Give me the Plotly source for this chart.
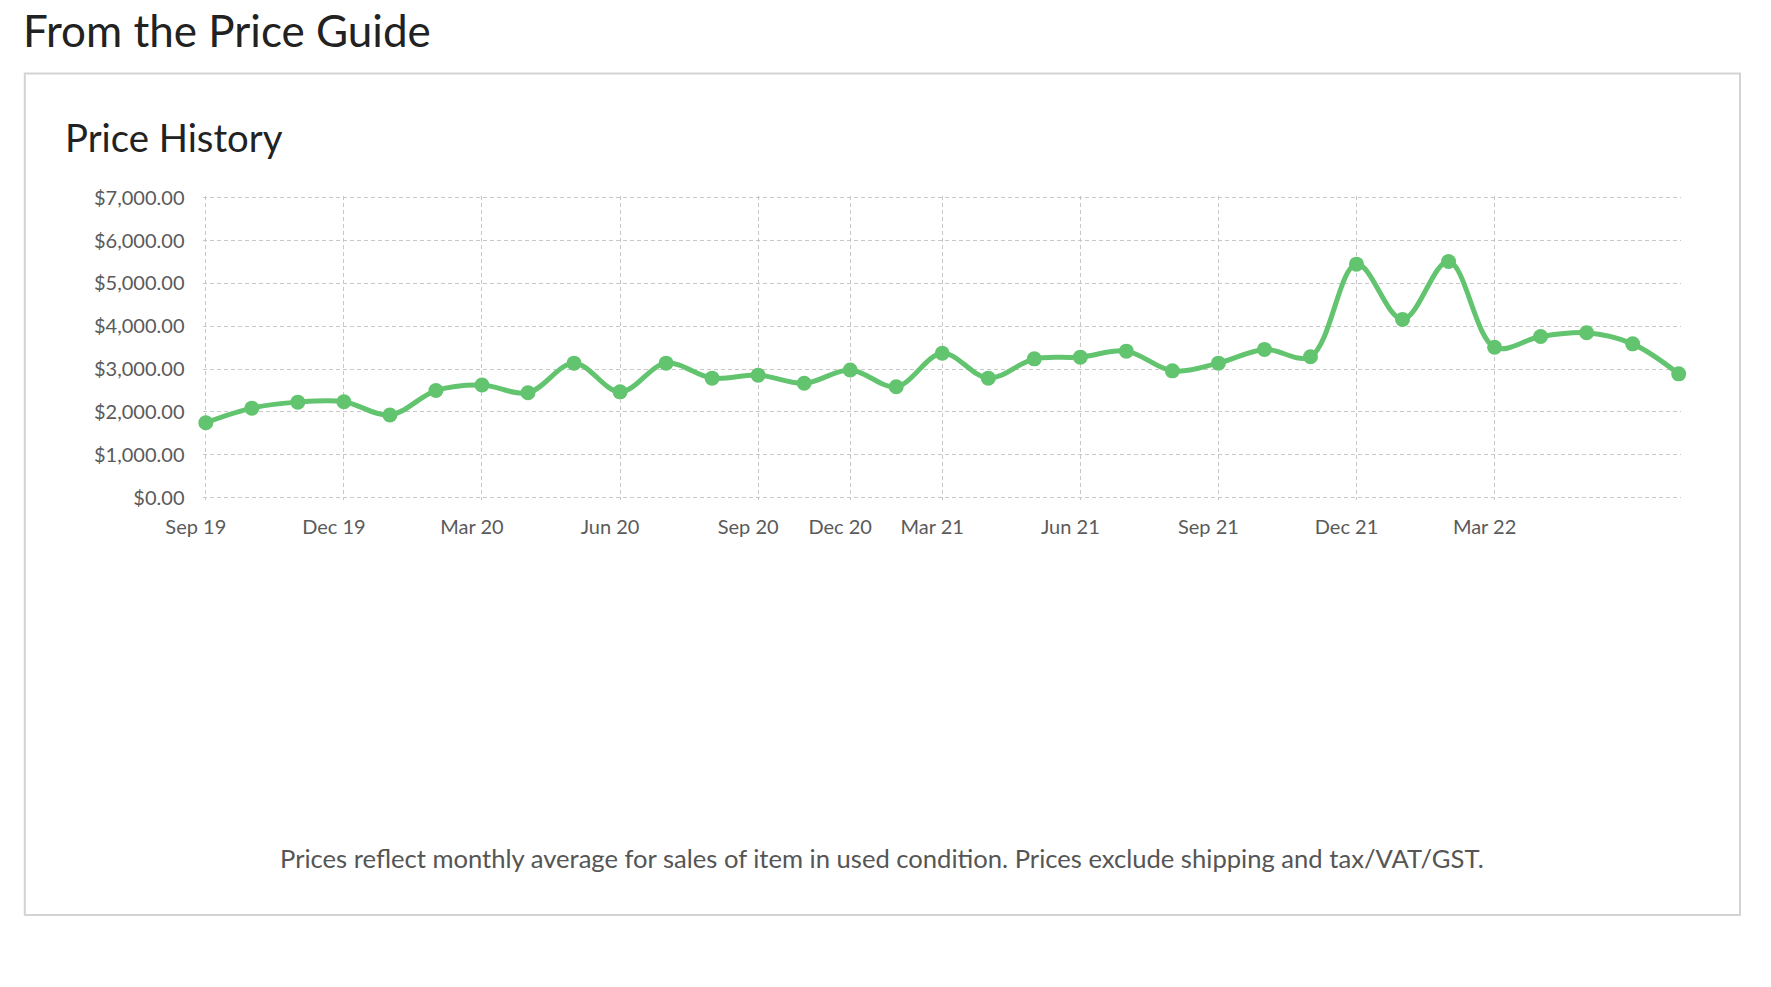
import plotly.graph_objects as go

W, H = 1771, 987

months = ["Sep 19", "Oct 19", "Nov 19", "Dec 19", "Jan 20", "Feb 20", "Mar 20", "Apr 20",
          "May 20", "Jun 20", "Jul 20", "Aug 20", "Sep 20", "Oct 20", "Nov 20", "Dec 20",
          "Jan 21", "Feb 21", "Mar 21", "Apr 21", "May 21", "Jun 21", "Jul 21", "Aug 21",
          "Sep 21", "Oct 21", "Nov 21", "Dec 21", "Jan 22", "Feb 22", "Mar 22", "Apr 22", "May 22"]
prices = [1750, 2090, 2230, 2240, 1930, 2500, 2630, 2450, 3140, 2470, 3140, 2790,
          2860, 2670, 2980, 2590, 3370, 2790, 3240, 3280, 3420, 2960, 3140, 3460,
          3290, 5450, 4160, 5510, 3510, 3760, 3850, 3590, 2890]
tick_positions = [0, 3, 6, 9, 12, 14, 16, 19, 22, 25, 28]
tick_labels = ["Sep 19", "Dec 19", "Mar 20", "Jun 20", "Sep 20", "Dec 20",
               "Mar 21", "Jun 21", "Sep 21", "Dec 21", "Mar 22"]
y_ticks = [0, 1000, 2000, 3000, 4000, 5000, 6000, 7000]
y_labels = ["${:,.2f}".format(v) for v in y_ticks]

def px(x):
    return x / W

def py(y):
    return 1 - y / H

GREEN = "#63c46f"
GRID = "#c8c8c8"
FONT = "Lato, 'Open Sans', sans-serif"

x_idx = list(range(len(prices)))

fig = go.Figure()
fig.add_trace(go.Scatter(
    x=x_idx, y=prices, customdata=months,
    mode="lines+markers",
    line=dict(color=GREEN, width=5, shape="spline", smoothing=1.0),
    marker=dict(color=GREEN, size=15),
    cliponaxis=False,
    hovertemplate="%{customdata}: $%{y:,.2f}<extra></extra>",
    showlegend=False,
))

# small padding (>1px) so Plotly keeps the boundary grid lines
xpad = 0.05
ypad = 50
x_lo, x_hi = -xpad, len(prices) - 1 + xpad
y_lo, y_hi = -ypad, 7000 + ypad

def xdom(a, b):
    # domain so that data 0 and 32 land at pixels a and b
    span = (len(prices) - 1)
    scale = (b - a) / span
    return [px(a - xpad * scale), px(b + xpad * scale)]

def ydom(a, b):
    scale = (a - b) / 7000
    return [py(a + ypad * scale), py(b - ypad * scale)]

fig.update_layout(
    template="none",
    width=W, height=H,
    autosize=False,
    margin=dict(l=0, r=0, t=0, b=0, pad=0),
    paper_bgcolor="white", plot_bgcolor="white",
    font=dict(family=FONT, color="#555555"),
    xaxis=dict(
        domain=xdom(205.8, 1678.7),
        range=[x_lo, x_hi],
        automargin=False,
        tickmode="array", tickvals=tick_positions, ticktext=tick_labels,
        showgrid=True, gridcolor=GRID, griddash="4px,3px", gridwidth=1.3,
        zeroline=False, showline=False, ticks="",
        tickfont=dict(size=20, color="#5a5a5a", family=FONT),
        ticklabelshift=-10, ticklabelstandoff=13,
        fixedrange=True,
    ),
    yaxis=dict(
        domain=ydom(497.7, 197.7),
        range=[y_lo, y_hi],
        automargin=False,
        tickmode="array", tickvals=y_ticks, ticktext=y_labels,
        showgrid=True, gridcolor=GRID, griddash="4px,3px", gridwidth=1.3,
        zeroline=False, showline=False, ticks="",
        tickfont=dict(size=20, color="#5a5a5a", family=FONT),
        ticklabelstandoff=18,
        fixedrange=True,
    ),
    shapes=[dict(type="rect", xref="paper", yref="paper",
                 x0=px(24.8), x1=px(1740), y0=py(915), y1=py(73.4),
                 line=dict(color="#d3d3d3", width=2), fillcolor="rgba(0,0,0,0)",
                 layer="below")],
    annotations=[
        dict(text="From the Price Guide", xref="paper", yref="paper",
             x=px(21), y=py(30), xanchor="left", yanchor="middle", showarrow=False,
             font=dict(size=44, color="#222222", family=FONT)),
        dict(text="Price History", xref="paper", yref="paper",
             x=px(63), y=py(137), xanchor="left", yanchor="middle", showarrow=False,
             font=dict(size=38.3, color="#222222", family=FONT)),
        dict(text="Prices reflect monthly average for sales of item in used condition. Prices exclude shipping and tax/VAT/GST.",
             xref="paper", yref="paper",
             x=px(882), y=py(858), xanchor="center", yanchor="middle", showarrow=False,
             font=dict(size=25.6, color="#555555", family=FONT)),
    ],
)

fig.write_html("out.html", config={"displayModeBar": False})
